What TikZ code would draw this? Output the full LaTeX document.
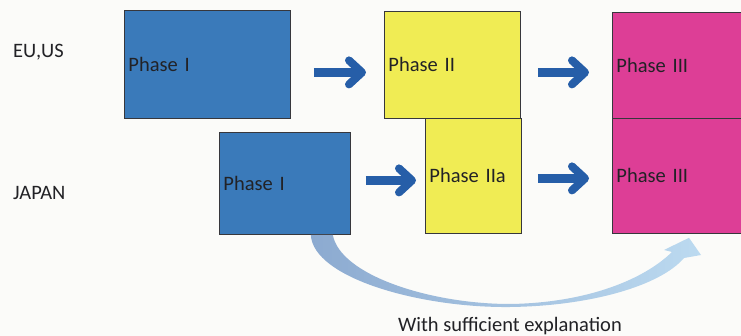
\documentclass[tikz,border=0pt]{standalone}
\usepackage{fontspec}
\setmainfont{Carlito}
\usetikzlibrary{calc}

\definecolor{paper}{RGB}{251,251,249}
\definecolor{boxedge}{RGB}{55,55,60}
\definecolor{phaseblue}{RGB}{58,122,186}
\definecolor{phaseyellow}{RGB}{240,236,84}
\definecolor{phasemagenta}{RGB}{221,62,150}
\definecolor{arrowblue}{RGB}{38,94,168}
\definecolor{inktext}{RGB}{34,34,38}
\definecolor{curvelight}{RGB}{140,170,208}
\definecolor{curvedark}{RGB}{32,88,160}
\definecolor{curvetip}{RGB}{188,218,240}

% thick block arrow: shaft plus rounded chevron head
\newcommand\fatarrow[2]{%
  \draw[fatshaft] (#1) -- ($(#2)+(-8,0)$);
  \draw[fathead] ($(#2)+(-18,-12)$) -- ($(#2)+(-5,0)$) -- ($(#2)+(-18,12)$);
}

\begin{document}
\begin{tikzpicture}[x=1pt,y=-1pt,
  phasebox/.style={draw=boxedge, line width=0.8pt, anchor=north west,
    inner xsep=4pt, inner ysep=0pt, align=left, text=inktext,
    font=\fontsize{20.5}{24}\selectfont},
  rowlabel/.style={anchor=west, inner sep=0pt, text=inktext,
    font=\fontsize{20.5}{24}\selectfont},
  fatshaft/.style={draw=arrowblue, line width=9pt},
  fathead/.style={draw=arrowblue, line width=8pt, line join=round, line cap=round}]

\useasboundingbox[fill=paper] (0,0) rectangle (741,336);

% row labels
\node[rowlabel] (eu) at (13,52) {EU,US};
\node[rowlabel] (jp) at (13,193) {JAPAN};

% EU / US track
\node[phasebox, fill=phaseblue, minimum width=166pt, minimum height=108pt, text width=158pt]
  (euI) at (124,10) {Phase I};
\node[phasebox, fill=phaseyellow, minimum width=136pt, minimum height=107pt, text width=128pt]
  (euII) at (384,11) {Phase II};
\node[phasebox, fill=phasemagenta, minimum width=134pt, minimum height=106pt, text width=126pt]
  (euIII) at (612,12) {Phase III};

% Japan track
\node[phasebox, fill=phaseblue, minimum width=131pt, minimum height=102pt, text width=123pt]
  (jpI) at (219,132) {Phase I};
\node[phasebox, fill=phaseyellow, minimum width=96pt, minimum height=115pt, text width=88pt]
  (jpIIa) at (425,118) {Phase IIa};
\node[phasebox, fill=phasemagenta, minimum width=134pt, minimum height=115pt, text width=126pt]
  (jpIII) at (612,118) {Phase III};

% arrow end points
\coordinate (a1s) at ($(euI.east)+(23,8)$);
\coordinate (a1e) at ($(euII.west |- a1s)+(-17,0)$);
\coordinate (a2s) at ($(euII.east)+(17,7.5)$);
\coordinate (a2e) at ($(euIII.west |- a2s)+(-22,0)$);
\coordinate (a3s) at ($(jpI.east)+(15,-3)$);
\coordinate (a3e) at ($(jpIIa.west |- a3s)+(-8,0)$);
\coordinate (a4s) at ($(jpIIa.east)+(16,2.5)$);
\coordinate (a4e) at ($(jpIII.west |- a4s)+(-22,0)$);

\fatarrow{a1s}{a1e}
\fatarrow{a2s}{a2e}
\fatarrow{a3s}{a3e}
\fatarrow{a4s}{a4e}

% curved shortcut arrow from Japan Phase I to Phase III
\coordinate (cs) at ($(jpI.south east)+(-40,0)$);
\coordinate (ct) at ($(jpIII.south west)+(77,4)$);
\shade[left color=curvelight, middle color=curvedark, right color=curvetip]
  (cs) .. controls (313,278) and (420,308) .. (510,307)
  .. controls (590,306) and (660,286) .. (684,258)
  -- (701,255) -- (ct) -- (664,250) -- (672,252)
  .. controls (640,283) and (580,303) .. (510,304)
  .. controls (430,304) and (340,275) .. ($(cs)+(22,0)$) -- cycle;

\node[rowlabel, anchor=center] (note) at (510,326) {With sufficient explanation};
\end{tikzpicture}
\end{document}
